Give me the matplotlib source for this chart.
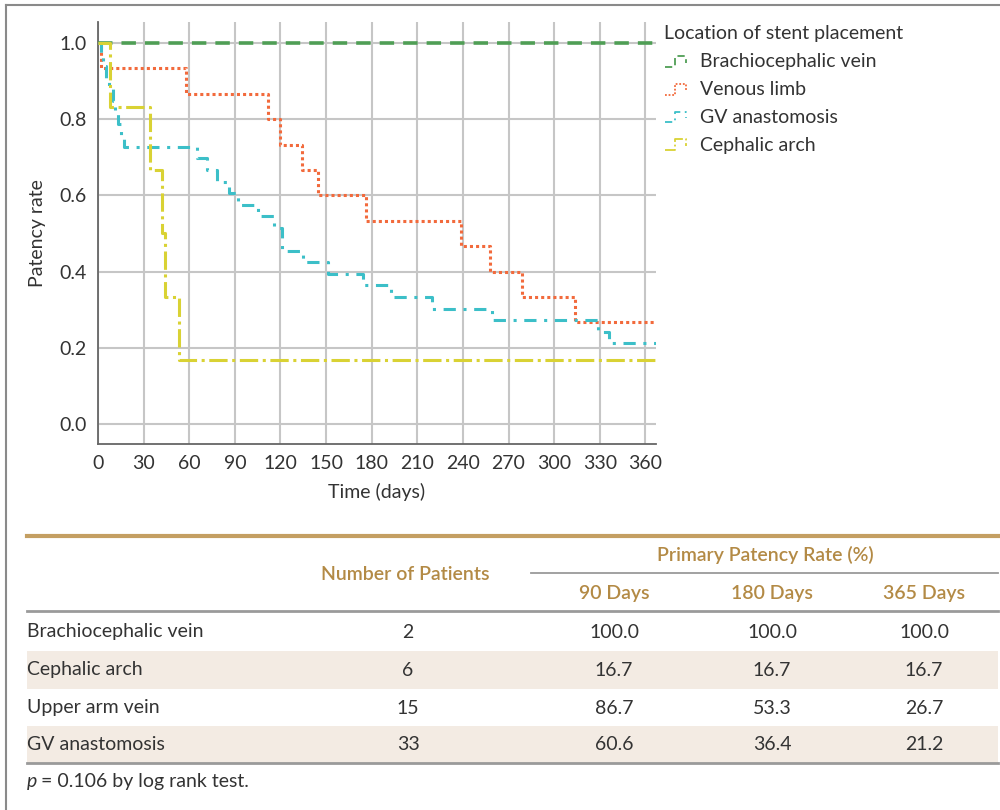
import numpy as np
import matplotlib
matplotlib.use('Agg')
from matplotlib import pyplot as plt
from matplotlib.lines import Line2D
from matplotlib.patches import Rectangle
from matplotlib.legend_handler import HandlerLine2D

plt.rcParams['font.family'] = ['Lato', 'DejaVu Sans']

# Kaplan-Meier curves (event day, survival after event)
end_day = 367
bcv_t = [0]
bcv_s = [1.0]
venous_t = [0, 2, 58, 112, 120, 134, 145, 176, 239, 258, 279, 314]
venous_s = [1.0, 0.933, 0.867, 0.800, 0.733, 0.667, 0.600, 0.533, 0.467, 0.400, 0.333, 0.267]
gv_t = [0, 2, 3, 5, 7, 10, 11, 13, 15, 17, 65, 72, 78, 86, 92, 105, 116, 121,
        135, 151, 174, 193, 220, 259, 329, 336]
gv_s = [1.0, 0.970, 0.939, 0.909, 0.879, 0.848, 0.818, 0.788, 0.758, 0.727, 0.697,
        0.667, 0.636, 0.606, 0.576, 0.545, 0.515, 0.455, 0.424, 0.394, 0.364, 0.333,
        0.303, 0.273, 0.242, 0.212]
arch_t = [0, 8, 34, 42, 44, 53]
arch_s = [1.0, 0.833, 0.667, 0.500, 0.333, 0.167]

legend_labels = ['Brachiocephalic vein', 'Venous limb', 'GV anastomosis', 'Cephalic arch']

# table
row_names = ['Brachiocephalic vein', 'Cephalic arch', 'Upper arm vein', 'GV anastomosis']
n_patients = [2, 6, 15, 33]
rate_90 = [100.0, 16.7, 86.7, 60.6]
rate_180 = [100.0, 16.7, 53.3, 36.4]
rate_365 = [100.0, 16.7, 26.7, 21.2]
col_heads = ['90 Days', '180 Days', '365 Days']


class StepHandler(HandlerLine2D):
    def create_artists(self, legend, orig_handle, xdescent, ydescent,
                       width, height, fontsize, trans):
        xs = np.array([0.0, 0.45, 0.45, 0.9, 0.9]) * width - xdescent
        ys = np.array([0.05, 0.05, 0.85, 0.85, 0.35]) * height - ydescent
        line = Line2D(xs, ys)
        self.update_prop(line, orig_handle, legend)
        line.set_transform(trans)
        return [line]


def km(t, s):
    return list(t) + [end_day], list(s) + [s[-1]]


W, H = 1000, 810
fs = 14
fig = plt.figure(figsize=(10, 8.1), dpi=100)

ax = fig.add_axes([98 / W, (H - 444) / H, 558 / W, 422 / H])
ax.set_xlim(0, end_day)
ax.set_ylim(-0.0525, 1.055)

styles = [
    dict(color='#4f9e55', lw=2.6, ls=(0, (4, 2.5))),
    dict(color='#f26a3c', lw=2.2, ls=(0, (1, 1))),
    dict(color='#3cbfc8', lw=2.2, ls=(0, (4, 2.5, 1, 2.5))),
    dict(color='#d9d234', lw=2.2, ls=(0, (6, 1.5, 1, 1.5))),
]
curves = [(bcv_t, bcv_s), (venous_t, venous_s), (gv_t, gv_s), (arch_t, arch_s)]
handles = []
for (t, s), st, lab in zip(curves, styles, legend_labels):
    x, y = km(t, s)
    h, = ax.step(x, y, where='post', label=lab, zorder=3, **st)
    handles.append(h)

ax.set_xticks(np.arange(0, 361, 30))
ax.set_yticks([0.0, 0.2, 0.4, 0.6, 0.8, 1.0])
ax.set_yticklabels(['0.0', '0.2', '0.4', '0.6', '0.8', '1.0'])
ax.grid(True, color='#c6c6c6', lw=1.5)
ax.set_axisbelow(True)
for side in ['top', 'right']:
    ax.spines[side].set_visible(False)
for side in ['left', 'bottom']:
    ax.spines[side].set_color('#666666')
    ax.spines[side].set_linewidth(1.3)
ax.tick_params(length=0, labelsize=fs, labelcolor='#333333', pad=8)
ax.set_xlabel('Time (days)', fontsize=fs, color='#333333', labelpad=8)
ax.set_ylabel('Patency rate', fontsize=fs, color='#333333', labelpad=10)

leg = fig.legend(handles=handles, title='Location of stent placement',
                 loc='upper left', bbox_to_anchor=(647 / W, 1 - 8 / H),
                 frameon=False, fontsize=fs, title_fontsize=fs,
                 handlelength=1.2, handletextpad=0.6, labelspacing=0.56,
                 alignment='left', handler_map={Line2D: StepHandler()})
for txt in leg.get_texts():
    txt.set_color('#333333')
leg.get_title().set_color('#333333')
for lh in leg.legend_handles:
    lh.set_linewidth(1.3)

# overlay axes in pixel units for the frame and table
tx = fig.add_axes([0, 0, 1, 1], zorder=-1)
tx.set_xlim(0, W)
tx.set_ylim(H, 0)
tx.axis('off')

tx.plot([6, 1000], [5, 5], color='#8a8a8a', lw=1.5)
tx.plot([6, 6], [5, 810], color='#8a8a8a', lw=1.5)

gold = '#b38a45'
txt_c = '#333333'
row_y = [632, 670, 708, 745]
num_x = 408
val_x = [614, 772, 924]

tx.plot([27, 998], [536, 536], color='#c49f62', lw=3)
tx.plot([531, 998], [573, 573], color='#9a9a9a', lw=1.3)
tx.plot([27, 998], [611, 611], color='#9a9a9a', lw=2)
tx.plot([27, 998], [763, 763], color='#9a9a9a', lw=2)

tx.text(765, 555, 'Primary Patency Rate (%)', color=gold, fontsize=fs,
        ha='center', va='center', fontweight='semibold')
tx.text(405, 574, 'Number of Patients', color=gold, fontsize=fs,
        ha='center', va='center', fontweight='semibold')
for xh, head in zip(val_x, col_heads):
    tx.text(xh, 593, head, color=gold, fontsize=fs, ha='center', va='center',
            fontweight='semibold')

for i, (name, n, a, b, c) in enumerate(zip(row_names, n_patients, rate_90, rate_180, rate_365)):
    yy = row_y[i]
    if i % 2 == 1:
        tx.add_patch(Rectangle((27, yy - 19), 971, 38, color='#f3ebe3', lw=0))
    tx.text(27, yy, name, color=txt_c, fontsize=fs, va='center')
    tx.text(num_x, yy, str(n), color=txt_c, fontsize=fs, ha='center', va='center')
    for xv, v in zip(val_x, [a, b, c]):
        tx.text(xv, yy, f'{v:.1f}', color=txt_c, fontsize=fs, ha='center', va='center')

tx.text(27, 781, 'p', style='italic', color=txt_c, fontsize=fs, va='center')
tx.text(41, 781, '= 0.106 by log rank test.', color=txt_c, fontsize=fs, va='center')

fig.savefig('out.png', dpi=100)
